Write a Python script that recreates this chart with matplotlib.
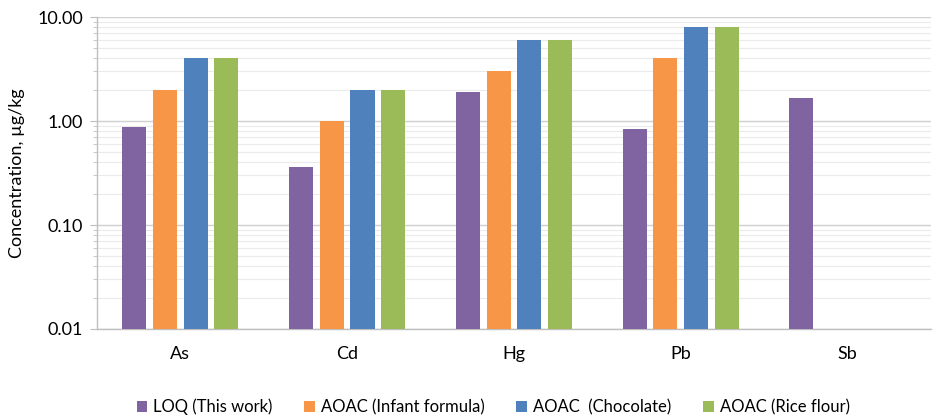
import matplotlib
matplotlib.use("Agg")
import matplotlib.pyplot as plt
import numpy as np
from matplotlib.ticker import LogLocator, FixedLocator, NullFormatter

plt.rcParams['font.family'] = ['Lato', 'DejaVu Sans']

categories = ["As", "Cd", "Hg", "Pb", "Sb"]
series_names = ["LOQ (This work)", "AOAC (Infant formula)", "AOAC  (Chocolate)", "AOAC (Rice flour)"]
loq = [0.88, 0.36, 1.89, 0.84, 1.68]
infant = [2.0, 1.0, 3.0, 4.0, np.nan]
chocolate = [4.0, 2.0, 6.0, 8.0, np.nan]
rice = [4.0, 2.0, 6.0, 8.0, np.nan]
yticks = [0.01, 0.1, 1.0, 10.0]
ytick_labels = ["0.01", "0.10", "1.00", "10.00"]

colors = ["#8064A2", "#F79646", "#4F81BD", "#9BBB59"]
series = [loq, infant, chocolate, rice]

fig = plt.figure(figsize=(9.38, 4.19), dpi=100)
ax = fig.add_axes([0.1034, 0.2148, 0.889, 0.7446])

x = np.arange(len(categories))
pitch = 0.184
width = 0.144
for j, (vals, c, name) in enumerate(zip(series, colors, series_names)):
    ax.bar(x + (j - 1.5) * pitch, vals, width=width, color=c, label=name, zorder=3)

ax.set_yscale('log')
ax.set_ylim(0.01, 10)
ax.set_xlim(-0.5, len(categories) - 0.5)
ax.yaxis.set_major_locator(FixedLocator(yticks))
ax.set_yticklabels(ytick_labels)
ax.yaxis.set_minor_locator(LogLocator(base=10, subs=np.arange(2, 10)))
ax.yaxis.set_minor_formatter(NullFormatter())
ax.set_xticks(x)
ax.set_xticklabels(categories)

ax.grid(which='major', axis='y', color='#d0d0d0', linewidth=1.0, zorder=0)
ax.grid(which='minor', axis='y', color='#ebebeb', linewidth=0.8, zorder=0)

for s in ['top', 'right']:
    ax.spines[s].set_visible(False)
for s in ['left', 'bottom']:
    ax.spines[s].set_color('#bfbfbf')
    ax.spines[s].set_linewidth(1.0)

ax.tick_params(axis='y', which='major', length=5, color='#bfbfbf', labelsize=13, pad=5, labelcolor='#000000')
ax.tick_params(axis='y', which='minor', length=3, color='#bfbfbf')
ax.tick_params(axis='x', length=0, labelsize=13, pad=12)

ax.set_ylabel("Concentration, µg/kg", fontsize=13, labelpad=9)

ax.legend(loc='upper center', bbox_to_anchor=(0.475, -0.175), ncol=4, frameon=False,
          fontsize=12, handlelength=0.65, handleheight=0.65, handletextpad=0.35,
          columnspacing=1.9)

fig.savefig("out.png", dpi=100)
